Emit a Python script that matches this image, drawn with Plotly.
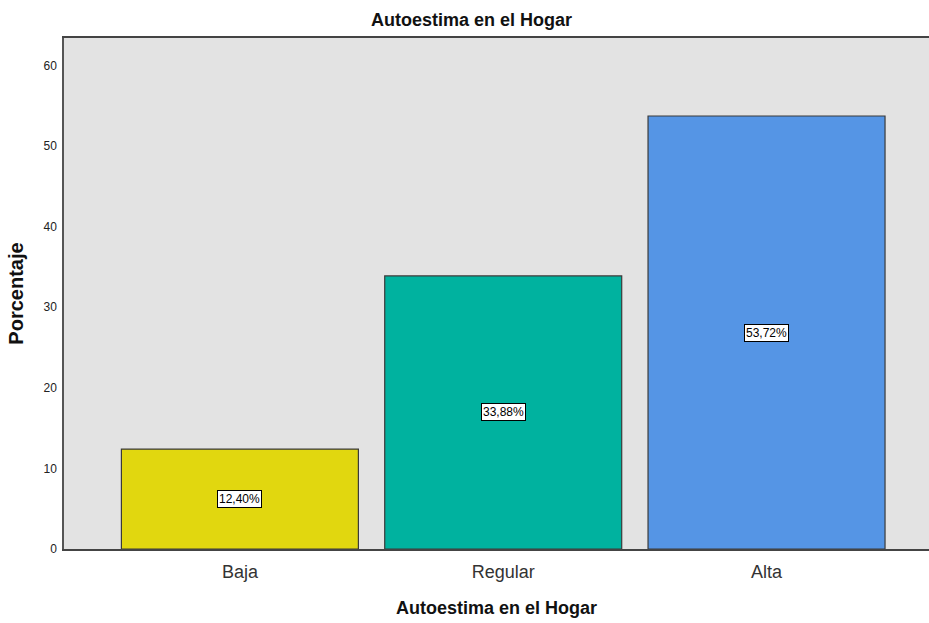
import plotly.graph_objects as go

categories = ["Baja", "Regular", "Alta"]
values = [12.40, 33.88, 53.72]
labels = ["12,40%", "33,88%", "53,72%"]
colors = ["#E1D70F", "#00B29F", "#5595E5"]
y_ticks = [0, 10, 20, 30, 40, 50, 60]

FONT = "Liberation Sans, Arial"

fig = go.Figure()
fig.add_trace(go.Bar(
    x=[0, 1, 2], y=values, width=0.9,
    marker=dict(color=colors, line=dict(color="#3a3a3a", width=1.2)),
    hoverinfo="skip",
))

for i, (v, t) in enumerate(zip(values, labels)):
    fig.add_annotation(x=i, y=v / 2, text=t, showarrow=False,
                       font=dict(family=FONT, size=12, color="#000"),
                       bgcolor="white", bordercolor="#000", borderwidth=1, borderpad=1)

fig.add_annotation(x=0.5, xref="paper", y=1.0, yref="paper", yshift=6,
                   xanchor="center", yanchor="bottom", text="<b>Autoestima en el Hogar</b>",
                   showarrow=False, font=dict(family=FONT, size=18, color="#111"),
                   xshift=-25)

fig.update_layout(
    width=929, height=623,
    margin=dict(l=64, r=0, t=38, b=74),
    paper_bgcolor="white", plot_bgcolor="#E3E3E3",
    showlegend=False,
    xaxis=dict(range=[-0.668, 2.617], tickvals=[0, 1, 2], ticktext=categories,
               tickfont=dict(family=FONT, size=18, color="#333"),
               ticklabelstandoff=6,
               showline=True, linecolor="#444", linewidth=1.5, mirror=True,
               showgrid=False, zeroline=False, ticks="", ticklen=0,
               title=dict(text="<b>Autoestima en el Hogar</b>", standoff=20,
                          font=dict(family=FONT, size=18, color="#111"))),
    yaxis=dict(range=[0, 63.4], tickvals=y_ticks,
               tickfont=dict(family=FONT, size=12, color="#222"),
               ticklabelstandoff=3,
               showline=True, linecolor="#555", linewidth=1.5, mirror=False,
               showgrid=False, zeroline=False, ticks="",
               title=dict(text="<b>Porcentaje</b>", standoff=14,
                          font=dict(family=FONT, size=20, color="#111"))),
)

fig.write_html("out.html", config={"displayModeBar": False},
               post_script="document.body.style.margin='0';")
